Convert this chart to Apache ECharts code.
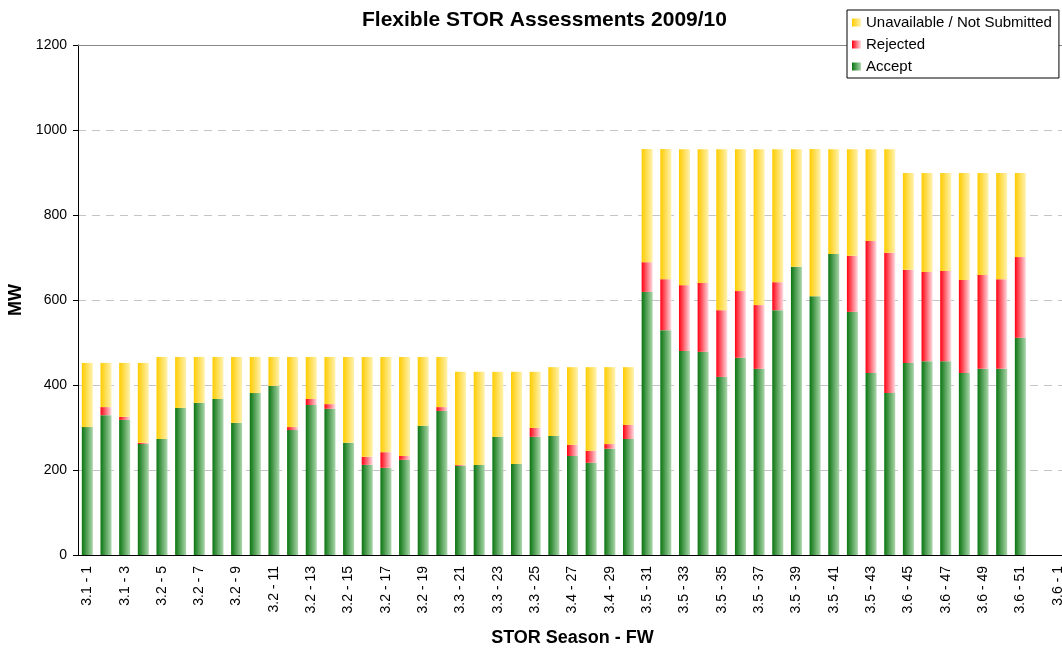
<!DOCTYPE html>
<html lang="en">
<head>
	<meta charset="UTF-8">
	<title>Flexible STOR Assessments 2009/10</title>
	<style type="text/css">
	body,html{
		width: 100%;
		height: 100%;
		margin: 0;
		padding: 0;
		background: #fff;
	}
	#container{
		width: 1062px;
		height: 648px;
	}
	</style>
</head>
<body>
	<div id="container"></div>
<script type="text/javascript" src="https://cdn.jsdelivr.net/npm/echarts@6/dist/echarts.min.js"></script>
<script type="text/javascript">
	// season of each forecast week (FW)
	var seasons = ['3.1','3.1','3.1','3.1',
		'3.2','3.2','3.2','3.2','3.2','3.2','3.2','3.2','3.2','3.2','3.2','3.2','3.2','3.2','3.2','3.2',
		'3.3','3.3','3.3','3.3','3.3',
		'3.4','3.4','3.4','3.4','3.4',
		'3.5','3.5','3.5','3.5','3.5','3.5','3.5','3.5','3.5','3.5','3.5','3.5','3.5','3.5',
		'3.6','3.6','3.6','3.6','3.6','3.6','3.6','3.6','3.6'];
	var weeks = [1,2,3,4,5,6,7,8,9,10,11,12,13,14,15,16,17,18,19,20,21,22,23,24,25,26,
		27,28,29,30,31,32,33,34,35,36,37,38,39,40,41,42,43,44,45,46,47,48,49,50,51,52,1];

	// MW
	var capacity = [452,452,452,452,
		466,466,466,466,466,466,466,466,466,466,466,466,466,466,466,466,
		431,431,431,431,431,
		442,442,442,442,442,
		955,955,955,955,955,955,955,955,955,955,955,955,955,955,
		899,899,899,899,899,899,899,null,null];
	var accept = [301,329,318,261,273,346,358,367,311,381,398,294,353,344,264,212,205,224,304,339,
		210,212,278,214,278,280,233,217,250,273,
		619,529,480,478,419,464,438,576,678,609,708,572,428,381,
		452,456,456,428,438,438,511,null,null];
	var rejected = [0,19,7,3,0,0,0,0,0,0,0,7,14,11,0,19,37,9,0,9,
		2,0,0,0,21,0,26,28,11,33,
		70,120,155,162,157,157,150,66,0,0,0,132,311,330,
		219,210,212,219,221,211,190,null,null];

	var categories = seasons.map(function (s, i) { return s + ' - ' + weeks[i]; });
	var unavailable = capacity.map(function (c, i) {
		return c == null ? null : c - accept[i] - rejected[i];
	});

	// excel style shading: dark on the left, pale on the right
	var shade = function (from, to) {
		return new echarts.graphic.LinearGradient(0, 0, 1, 0, [
			{ offset: 0, color: from },
			{ offset: 1, color: to }
		]);
	};

	var font = 'Liberation Sans, Arial, sans-serif';

	var option = {
		animation: false,
		textStyle: { fontFamily: font },
		title: {
			text: 'Flexible STOR Assessments 2009/10',
			left: 357,
			top: 5,
			textStyle: { fontSize: 21, fontWeight: 'bold', color: '#000', fontFamily: font }
		},
		legend: {
			orient: 'vertical',
			left: 847,
			top: 10,
			padding: [5, 7, 4, 5],
			borderColor: '#000',
			borderWidth: 1,
			backgroundColor: '#fff',
			icon: 'rect',
			itemWidth: 9,
			itemHeight: 8,
			itemGap: 7,
			textStyle: { fontSize: 15, color: '#000', fontFamily: font },
			data: ['Unavailable / Not Submitted', 'Rejected', 'Accept']
		},
		grid: {
			left: 78,
			top: 45,
			right: -5,
			bottom: 93,
			outerBoundsMode: 'none',
			containLabel: false
		},
		xAxis: [{
			type: 'category',
			data: categories,
			name: 'STOR Season - FW',
			nameLocation: 'middle',
			nameGap: 74,
			nameTextStyle: { fontSize: 18, fontWeight: 'bold', color: '#000' },
			axisLine: { lineStyle: { color: '#000', width: 1 } },
			axisTick: { interval: 0, length: 5, lineStyle: { color: '#000' } },
			axisLabel: { interval: 1, rotate: 90, fontSize: 14, color: '#000', margin: 11 }
		}, {
			type: 'category',
			data: categories,
			position: 'top',
			axisLine: { lineStyle: { color: '#888', width: 1 } },
			axisTick: { show: false },
			axisLabel: { show: false }
		}],
		yAxis: {
			type: 'value',
			min: 0,
			max: 1200,
			interval: 200,
			name: 'MW',
			nameLocation: 'middle',
			nameGap: 52,
			nameTextStyle: { fontSize: 18, fontWeight: 'bold', color: '#000' },
			axisLine: { show: true, lineStyle: { color: '#000', width: 1 } },
			axisTick: { show: true, length: 5, lineStyle: { color: '#000' } },
			axisLabel: {
				fontSize: 14, color: '#000', margin: 11,
				formatter: function (v) { return String(v); }
			},
			splitLine: { lineStyle: { color: '#c4c4c4', type: [8, 6] } }
		},
		series: [{
			name: 'Accept',
			type: 'bar',
			stack: 'mw',
			barWidth: 11,
			data: accept,
			itemStyle: { color: shade('#0a7510', '#abd6ab') }
		}, {
			name: 'Rejected',
			type: 'bar',
			stack: 'mw',
			barWidth: 11,
			data: rejected,
			itemStyle: { color: shade('#ff0010', '#ffdce2') }
		}, {
			name: 'Unavailable / Not Submitted',
			type: 'bar',
			stack: 'mw',
			barWidth: 11,
			data: unavailable,
			itemStyle: { color: shade('#ffcc00', '#fff2b0') }
		}]
	};

	var chart = echarts.init(document.getElementById('container'));
	chart.setOption(option, true);
</script>
</body>
</html>
